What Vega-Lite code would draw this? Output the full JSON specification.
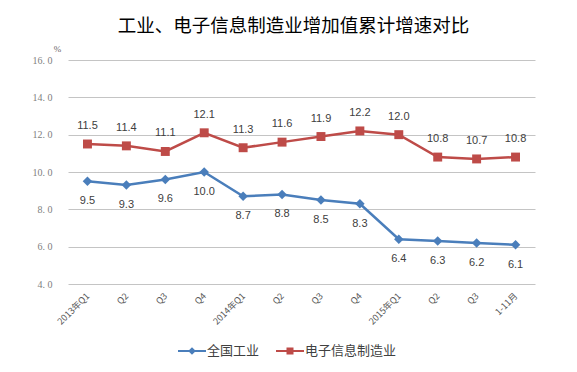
{
  "$schema": "https://vega.github.io/schema/vega-lite/v6.json",
  "width": 467,
  "height": 224,
  "autosize": {"type": "none"},
  "padding": {"left": 68, "top": 60, "right": 42, "bottom": 88},
  "background": "white",
  "title": {
    "text": "工业、电子信息制造业增加值累计增速对比",
    "font": "Noto Sans CJK SC",
    "fontSize": 18.5,
    "fontWeight": "normal",
    "color": "#000000",
    "anchor": "middle",
    "dx": -8,
    "offset": 9
  },
  "data": {
    "values": [
      {"period": "2013年Q1", "series": "全国工业", "value": 9.5},
      {"period": "Q2 ", "series": "全国工业", "value": 9.3},
      {"period": "Q3 ", "series": "全国工业", "value": 9.6},
      {"period": "Q4 ", "series": "全国工业", "value": 10.0},
      {"period": "2014年Q1", "series": "全国工业", "value": 8.7},
      {"period": "Q2  ", "series": "全国工业", "value": 8.8},
      {"period": "Q3  ", "series": "全国工业", "value": 8.5},
      {"period": "Q4  ", "series": "全国工业", "value": 8.3},
      {"period": "2015年Q1", "series": "全国工业", "value": 6.4},
      {"period": "Q2", "series": "全国工业", "value": 6.3},
      {"period": "Q3", "series": "全国工业", "value": 6.2},
      {"period": "1-11月", "series": "全国工业", "value": 6.1},
      {"period": "2013年Q1", "series": "电子信息制造业", "value": 11.5},
      {"period": "Q2 ", "series": "电子信息制造业", "value": 11.4},
      {"period": "Q3 ", "series": "电子信息制造业", "value": 11.1},
      {"period": "Q4 ", "series": "电子信息制造业", "value": 12.1},
      {"period": "2014年Q1", "series": "电子信息制造业", "value": 11.3},
      {"period": "Q2  ", "series": "电子信息制造业", "value": 11.6},
      {"period": "Q3  ", "series": "电子信息制造业", "value": 11.9},
      {"period": "Q4  ", "series": "电子信息制造业", "value": 12.2},
      {"period": "2015年Q1", "series": "电子信息制造业", "value": 12.0},
      {"period": "Q2", "series": "电子信息制造业", "value": 10.8},
      {"period": "Q3", "series": "电子信息制造业", "value": 10.7},
      {"period": "1-11月", "series": "电子信息制造业", "value": 10.8}
    ]
  },
  "encoding": {
    "x": {
      "field": "period",
      "type": "nominal",
      "sort": null,
      "scale": {"type": "point", "padding": 0.5},
      "axis": {
        "title": null,
        "domain": false,
        "ticks": false,
        "grid": false,
        "labelAngle": -45,
        "labelAlign": "right",
        "labelBaseline": "middle",
        "labelPadding": 10,
        "labelFont": "Noto Sans CJK SC",
        "labelFontSize": 9,
        "labelColor": "#595959"
      }
    },
    "y": {
      "field": "value",
      "type": "quantitative",
      "scale": {"domain": [4, 16], "nice": false, "zero": false},
      "axis": {
        "values": [4, 6, 8, 10, 12, 14, 16],
        "title": "%",
        "titleAngle": 0,
        "titleX": -11,
        "titleY": -12,
        "titleAlign": "center",
        "titleBaseline": "middle",
        "titleFont": "Liberation Serif",
        "titleFontSize": 9,
        "titleFontWeight": "normal",
        "titleColor": "#666666",
        "domain": false,
        "ticks": false,
        "grid": true,
        "gridColor": "#c4c4c4",
        "gridWidth": 1,
        "labelPadding": 16,
        "labelFont": "Liberation Serif",
        "labelFontSize": 10,
        "labelColor": "#808080",
        "labelExpr": "replace(format(datum.value, '.1f'), '.', '. ')"
      }
    },
    "color": {
      "field": "series",
      "type": "nominal",
      "sort": ["全国工业", "电子信息制造业"],
      "scale": {"domain": ["全国工业", "电子信息制造业"], "range": ["#4A7EBB", "#BE4B48"]},
      "legend": {
        "title": null,
        "orient": "none",
        "direction": "horizontal",
        "legendX": 117,
        "legendY": 284,
        "padding": 0,
        "symbolSize": 196,
        "labelOffset": 8,
        "columnPadding": 16,
        "labelFont": "Noto Sans CJK SC",
        "labelFontSize": 13,
        "labelColor": "#404040",
        "encode": {
          "symbols": {
            "update": {
              "shape": {"signal": "datum.value == '全国工业' ? 'M-2,-0.15H2V0.15H-2Z M0,-0.55L0.55,0L0,0.55L-0.55,0Z' : 'M-2,-0.15H2V0.15H-2Z M-0.5,-0.5H0.5V0.5H-0.5Z'"},
              "fill": {"scale": "color", "field": "value"},
              "fillOpacity": {"value": 1},
              "strokeWidth": {"value": 0}
            }
          }
        }
      }
    }
  },
  "layer": [
    {"mark": {"type": "line", "strokeWidth": 2.5}},
    {
      "transform": [{"filter": "datum.series == '全国工业'"}],
      "mark": {"type": "point", "shape": "diamond", "filled": true, "size": 90, "opacity": 1}
    },
    {
      "transform": [{"filter": "datum.series == '电子信息制造业'"}],
      "mark": {"type": "point", "shape": "square", "filled": true, "size": 80, "opacity": 1}
    },
    {
      "transform": [{"filter": "datum.series == '全国工业'"}],
      "mark": {"type": "text", "dy": 20, "font": "Liberation Sans", "fontSize": 11, "color": "#404040"},
      "encoding": {"text": {"field": "value", "type": "quantitative", "format": ".1f"}, "color": {"value": "#404040"}}
    },
    {
      "transform": [{"filter": "datum.series == '电子信息制造业'"}],
      "mark": {"type": "text", "dy": -18, "font": "Liberation Sans", "fontSize": 11, "color": "#404040"},
      "encoding": {"text": {"field": "value", "type": "quantitative", "format": ".1f"}, "color": {"value": "#404040"}}
    }
  ],
  "config": {"view": {"stroke": null}}
}
